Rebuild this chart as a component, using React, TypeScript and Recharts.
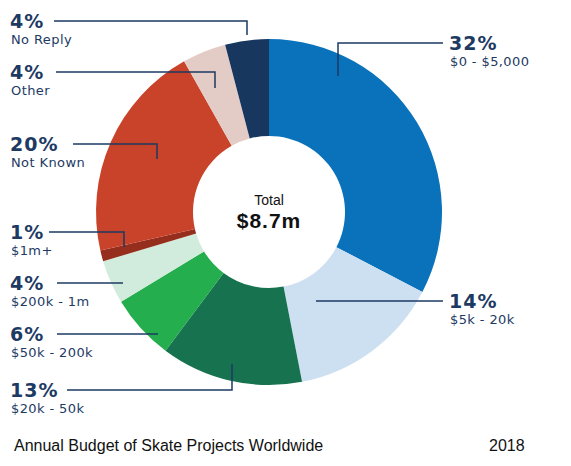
import { PieChart, Pie, Cell } from "recharts";

const categories = [
  "$0 - $5,000",
  "$5k - 20k",
  "$20k - 50k",
  "$50k - 200k",
  "$200k - 1m",
  "$1m+",
  "Not Known",
  "Other",
  "No Reply",
];
const shares = [32, 14, 13, 6, 4, 1, 20, 4, 4];
const totalLabel = "$8.7m";

const COLORS = [
  "#0a72bb",
  "#cde0f1",
  "#17734f",
  "#25ae4e",
  "#d1ebdc",
  "#962e1e",
  "#c9432a",
  "#e3ccc6",
  "#17375f",
];

// leader line layout per slice: anchor offset from pie centre, horizontal line y, text x, line end on text side
const LAYOUT = [
  { ax: 69, ay: -136, ly: 43, tx: 449, lx: 443 },
  { ax: 47, ay: 89, ly: 301, tx: 449, lx: 443 },
  { ax: -37, ay: 152, ly: 390, tx: 10, lx: 67 },
  { ax: -111, ay: 122, ly: 334, tx: 10, lx: 57 },
  { ax: -146, ay: 71, ly: 283, tx: 10, lx: 57 },
  { ax: -145, ay: 35, ly: 232, tx: 10, lx: 49 },
  { ax: -112, ay: -53, ly: 144, tx: 10, lx: 73 },
  { ax: -54, ay: -124, ly: 72, tx: 10, lx: 56 },
  { ax: -22, ay: -177, ly: 21, tx: 10, lx: 54 },
];

const data = categories.map((name, i) => ({ name, value: shares[i] }));

const NAVY = "#1d3a63";
const LABEL_FONT = "'DejaVu Sans', sans-serif";
const PLAIN_FONT = "'Liberation Sans', Arial, sans-serif";

const renderLabel = (props: any) => {
  const { cx, cy, index } = props;
  const l = LAYOUT[index];
  const x = cx + l.ax;
  const y = cy + l.ay;
  const pts = `${l.lx},${l.ly} ${x},${l.ly} ${x},${y}`;
  return (
    <g key={`lbl-${index}`}>
      <polyline points={pts} fill="none" stroke={NAVY} strokeWidth={1.5} />
      <text
        x={l.tx}
        y={l.ly + 7}
        fill={NAVY}
        fontFamily={LABEL_FONT}
        fontWeight="bold"
        fontSize={19}
        letterSpacing={1}
      >
        {`${shares[index]}%`}
      </text>
      <text
        x={l.tx + 1}
        y={l.ly + 23}
        fill={NAVY}
        fontFamily={LABEL_FONT}
        fontSize={13}
        letterSpacing={0.4}
      >
        {categories[index]}
      </text>
    </g>
  );
};

export default function App() {
  return (
    <div style={{ position: "absolute", left: 0, top: 0, background: "#fff" }}>
      <PieChart width={571} height={466} margin={{ top: 0, right: 0, bottom: 0, left: 0 }}>
        <Pie
          data={data}
          dataKey="value"
          nameKey="name"
          cx={269}
          cy={212}
          innerRadius={76}
          outerRadius={173}
          startAngle={90}
          endAngle={-270}
          stroke="none"
          label={renderLabel}
          labelLine={false}
          isAnimationActive={false}
        >
          {data.map((d, i) => (
            <Cell key={d.name} fill={COLORS[i]} />
          ))}
        </Pie>
        <text x={269} y={205} textAnchor="middle" fontFamily={PLAIN_FONT} fontSize={14} fill="#111">
          Total
        </text>
        <text
          x={269}
          y={228}
          textAnchor="middle"
          fontFamily={PLAIN_FONT}
          fontWeight="bold"
          fontSize={21}
          letterSpacing={1}
          fill="#111"
        >
          {totalLabel}
        </text>
        <text x={14} y={451} fontFamily={PLAIN_FONT} fontSize={16} fill="#111">
          Annual Budget of Skate Projects Worldwide
        </text>
        <text x={489} y={451} fontFamily={PLAIN_FONT} fontSize={16} fill="#111">
          2018
        </text>
      </PieChart>
    </div>
  );
}
